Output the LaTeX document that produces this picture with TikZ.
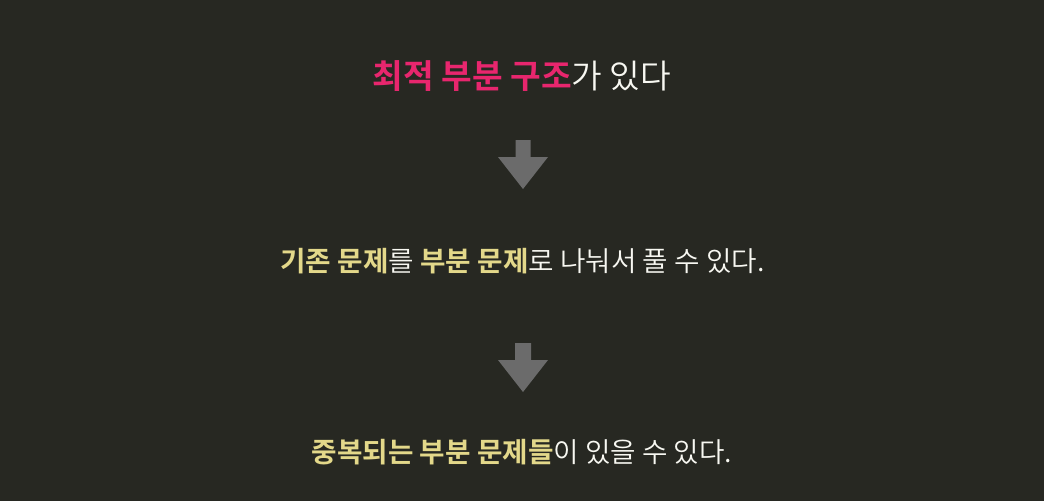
\documentclass[tikz,border=0pt]{standalone}
\usepackage{fontspec}
\newfontfamily\kr[BoldFont={Noto Sans CJK KR Bold}]{Noto Sans CJK KR DemiLight}
\definecolor{bgc}{HTML}{272822}
\definecolor{pinkc}{HTML}{E8266E}
\definecolor{yelc}{HTML}{E3D88A}
\definecolor{arrc}{HTML}{6B6B6B}
\definecolor{txtc}{HTML}{F8F8F2}
\tikzset{
  big/.style={inner sep=0pt, text=txtc, font=\kr\fontsize{33.3}{40}\selectfont},
  small/.style={inner sep=0pt, text=txtc, font=\kr\fontsize{27.7}{32}\selectfont},
  blockarrow/.style={fill=arrc, draw=none}
}
\newcommand{\pk}[1]{\textcolor{pinkc}{\bfseries #1}}
\newcommand{\yl}[1]{\textcolor{yelc}{\bfseries #1}}
\begin{document}
\begin{tikzpicture}[x=1pt,y=-1pt]
\fill[bgc] (0,0) rectangle (1044,501);
\useasboundingbox (0,0) rectangle (1044,501);
\node[big] (t1) at (522,76) {\pk{최적 부분 구조}가 있다};
\node[small] (t2) at (522.5,261) {\yl{기존 문제}를 \yl{부분 문제}로 나눠서 풀 수 있다.};
\node[small] (t3) at (522,452) {\yl{중복되는 부분 문제들}이 있을 수 있다.};
\fill[blockarrow] (515.5,140) -- (530.5,140) -- (530.5,157) -- (548,157) -- (523,189) -- (498,157) -- (515.5,157) -- cycle;
\fill[blockarrow] (515,343) -- (531,343) -- (531,360) -- (548,360) -- (523,392) -- (498,360) -- (515,360) -- cycle;
\end{tikzpicture}
\end{document}
